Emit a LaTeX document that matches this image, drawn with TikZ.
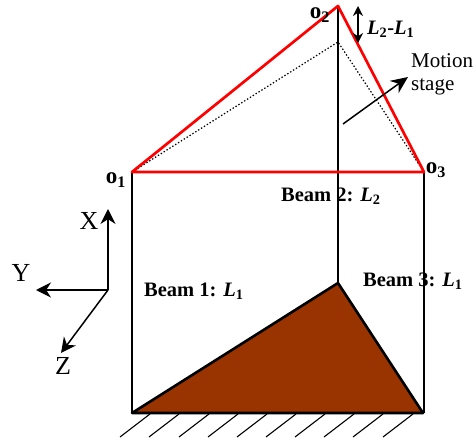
\documentclass[tikz,border=0pt]{standalone}
\usepackage{fontspec}
\setmainfont{Liberation Serif}
\usepackage{xcolor}
\usetikzlibrary{arrows.meta, calc}
\definecolor{basebrown}{RGB}{153,51,0}

\begin{document}
\begin{tikzpicture}[
    x=1pt, y=-1pt,
    beam/.style={draw=black, line width=1.5pt},
    stage/.style={draw=red, line width=2.7pt, line join=round},
    hidden/.style={draw=black, line width=1.2pt, dash pattern=on 1.4pt off 2pt},
    base/.style={draw=black, line width=2.6pt, fill=basebrown, line join=round},
    hatch/.style={draw=black, line width=1.1pt},
    axarr/.style={-{Stealth[length=15pt,width=15pt]}, line width=1.5pt},
    gaparr/.style={{Stealth[length=10pt,width=10pt]}-{Stealth[length=10pt,width=10pt]}, line width=1.5pt},
    motionarr/.style={-{Stealth[length=17pt,width=15pt]}, line width=1.5pt},
    lbl/.style={inner sep=0pt, anchor=west, font=\fontsize{20.5}{23}\selectfont\bfseries},
    ptlbl/.style={inner sep=0pt, font=\fontsize{23}{25}\selectfont\bfseries},
    axlbl/.style={inner sep=0pt, font=\fontsize{26}{28}\selectfont},
    plain/.style={inner sep=0pt, anchor=west, font=\fontsize{21}{23}\selectfont}
]
\useasboundingbox (0,0) rectangle (474,441);

%% ===== POINTS =====
\coordinate (o1) at (132,172);
\coordinate (o2) at (338,6);
\coordinate (o3) at (424,172);
\coordinate (top) at (338,42);
\coordinate (b1) at (132,413);
\coordinate (b2) at (338,283);
\coordinate (b3) at (423,413);

%% ===== BEAMS =====
\draw[beam] (o1) -- (b1);
\draw[beam] (o2) -- (b2);
\draw[beam] (o3) -- (424,413);

%% ===== BASE =====
\foreach \hx in {150,179,209,238,267,296,325,354,383,413}
  \draw[hatch] (\hx,414) -- ++(-30,23);
\draw[base] (b1) -- (b2) -- (b3) -- cycle;

%% ===== STAGE =====
\draw[hidden] (o1) -- (top) -- (o3);
\draw[stage] (o1) -- (o2) -- (o3) -- cycle;

%% ===== ARROWS =====
\coordinate (gapA) at (358,6);
\coordinate (gapB) at (358,43);
\draw[gaparr] (gapA) -- (gapB);
\coordinate (motionA) at (343,124);
\coordinate (motionB) at (408,77);
\draw[motionarr] (motionA) -- (motionB);

%% ===== AXES =====
\coordinate (orig) at (108,290);
\coordinate (xtip) at (108,209);
\coordinate (ytip) at (36,290);
\coordinate (ztip) at (61,353);
\draw[axarr] (orig) -- (xtip);
\draw[axarr] (orig) -- (ytip);
\draw[axarr] (orig) -- (ztip);

%% ===== LABELS =====
\node[axlbl] (xlbl) at (89,221) {X};
\node[axlbl] (ylbl) at (21,273) {Y};
\node[axlbl] (zlbl) at (63,366) {Z};
\node[ptlbl] (o1lbl) at (116,180) {o\textsubscript{1}};
\node[ptlbl] (o2lbl) at (320,15) {o\textsubscript{2}};
\node[ptlbl] (o3lbl) at (436,170) {o\textsubscript{3}};
\node[lbl] (gaplbl) at (367,29) {\textit{L}\textsubscript{2}-\textit{L}\textsubscript{1}};
\node[plain] (motion) at (411,61) {Motion};
\node[plain] (stagelbl) at (411,87) {stage};
\node[lbl] (beamtwo) at (281,196) {Beam 2: \textit{L}\textsubscript{2}};
\node[lbl] (beamone) at (144,291) {Beam 1: \textit{L}\textsubscript{1}};
\node[lbl] (beamthree) at (363,281) {Beam 3: \textit{L}\textsubscript{1}};

\end{tikzpicture}
\end{document}
